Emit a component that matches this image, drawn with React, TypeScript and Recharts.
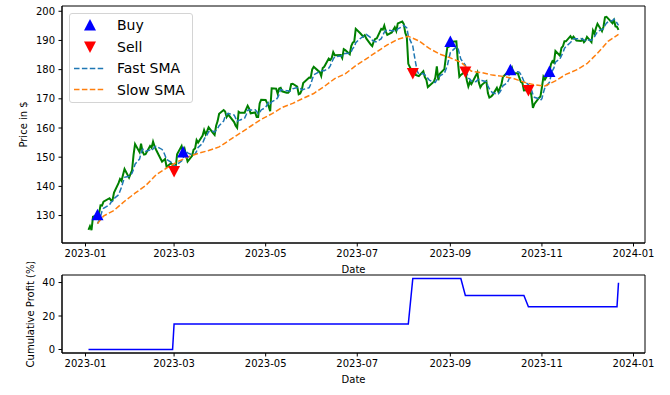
import React from "react";
import { ComposedChart, LineChart, Line, Scatter, XAxis, YAxis, Label, ReferenceArea } from "recharts";

// trading days of 2023, one row per month
const tradingDays: number[][] = [
  [3, 4, 5, 6, 9, 10, 11, 12, 13, 17, 18, 19, 20, 23, 24, 25, 26, 27, 30, 31],
  [1, 2, 3, 6, 7, 8, 9, 10, 13, 14, 15, 16, 17, 21, 22, 23, 24, 27, 28],
  [1, 2, 3, 6, 7, 8, 9, 10, 13, 14, 15, 16, 17, 20, 21, 22, 23, 24, 27, 28, 29, 30, 31],
  [3, 4, 5, 6, 10, 11, 12, 13, 14, 17, 18, 19, 20, 21, 24, 25, 26, 27, 28],
  [1, 2, 3, 4, 5, 8, 9, 10, 11, 12, 15, 16, 17, 18, 19, 22, 23, 24, 25, 26, 30, 31],
  [1, 2, 5, 6, 7, 8, 9, 12, 13, 14, 15, 16, 20, 21, 22, 23, 26, 27, 28, 29, 30],
  [3, 5, 6, 7, 10, 11, 12, 13, 14, 17, 18, 19, 20, 21, 24, 25, 26, 27, 28, 31],
  [1, 2, 3, 4, 7, 8, 9, 10, 11, 14, 15, 16, 17, 18, 21, 22, 23, 24, 25, 28, 29, 30, 31],
  [1, 5, 6, 7, 8, 11, 12, 13, 14, 15, 18, 19, 20, 21, 22, 25, 26, 27, 28, 29],
  [2, 3, 4, 5, 6, 9, 10, 11, 12, 13, 16, 17, 18, 19, 20, 23, 24, 25, 26, 27, 30, 31],
  [1, 2, 3, 6, 7, 8, 9, 10, 13, 14, 15, 16, 17, 20, 21, 22, 24, 27, 28, 29, 30],
  [1, 4, 5, 6, 7, 8, 11, 12, 13, 14, 15, 18, 19, 20, 21, 22],
];

const closeByMonth: number[][] = [
  [125.07, 126.36, 125.02, 129.62, 130.15, 130.73, 133.49, 133.41, 134.76, 135.94, 135.21, 135.27, 137.87, 141.11, 142.53, 141.86, 143.96, 145.93, 143.0, 144.29],
  [145.43, 150.82, 154.5, 151.73, 154.65, 151.92, 150.87, 151.01, 153.85, 153.2, 155.33, 153.71, 152.55, 148.48, 148.91, 149.4, 146.71, 147.92, 147.41],
  [145.31, 145.91, 151.03, 153.83, 151.6, 152.87, 150.59, 148.5, 150.47, 152.59, 152.99, 155.85, 155.0, 157.4, 159.28, 157.83, 158.93, 160.25, 158.28, 157.65, 160.77, 162.36, 164.9],
  [166.17, 165.63, 163.76, 164.66, 162.03, 160.8, 160.1, 165.56, 165.21, 165.23, 166.47, 167.63, 166.65, 165.02, 165.33, 163.77, 163.76, 168.41, 169.68],
  [169.59, 168.54, 167.45, 165.79, 173.57, 173.5, 171.77, 173.56, 173.75, 172.57, 172.07, 172.07, 172.69, 175.05, 175.16, 174.2, 171.56, 171.84, 172.99, 175.43, 177.3, 177.25],
  [180.09, 180.95, 179.58, 179.21, 177.82, 180.57, 180.96, 183.79, 183.31, 183.95, 186.01, 184.92, 185.01, 183.96, 187.0, 186.68, 185.27, 188.06, 189.25, 189.59, 193.97],
  [192.46, 191.33, 191.81, 190.68, 188.61, 188.08, 189.77, 190.54, 190.69, 193.99, 193.73, 195.1, 193.13, 191.94, 192.75, 193.62, 194.5, 193.22, 195.83, 196.45],
  [195.61, 192.58, 191.17, 181.99, 178.85, 179.8, 178.19, 177.97, 177.79, 179.46, 177.45, 176.57, 174.0, 174.49, 175.84, 177.23, 181.12, 176.38, 178.61, 180.19, 184.12, 187.65, 187.87],
  [189.46, 189.7, 182.91, 177.56, 178.18, 179.36, 176.3, 174.21, 175.74, 175.01, 177.97, 179.07, 175.49, 173.93, 174.79, 176.08, 171.96, 170.43, 170.69, 171.21],
  [173.75, 172.4, 173.66, 174.91, 177.49, 178.99, 178.39, 179.8, 180.71, 178.85, 178.72, 177.15, 175.84, 175.46, 172.88, 173.0, 173.44, 171.1, 166.89, 168.22, 170.29, 170.77],
  [173.97, 177.57, 176.65, 179.23, 181.82, 182.89, 182.41, 186.4, 184.8, 187.44, 188.01, 189.71, 189.69, 191.45, 190.64, 191.31, 189.97, 189.79, 190.4, 189.37, 189.95],
  [191.24, 189.43, 193.42, 192.32, 194.27, 195.71, 193.18, 194.71, 197.96, 198.11, 197.57, 195.89, 196.94, 194.83, 194.68, 193.6],
];

// fast SMA, same days as the closes
const fastByMonth: (number | null)[][] = [
  [null, null, null, null, 127.24, 128.38, 129.8, 131.48, 132.51, 133.67, 134.56, 134.92, 135.81, 137.08, 138.4, 139.73, 141.47, 143.08, 143.46, 143.81],
  [144.52, 145.89, 147.61, 149.35, 151.43, 152.72, 152.73, 152.04, 152.46, 152.17, 152.85, 153.42, 153.73, 152.65, 151.8, 150.61, 149.21, 148.28, 148.07],
  [147.35, 146.65, 147.52, 148.7, 149.54, 151.05, 151.98, 151.48, 150.81, 151.0, 151.03, 152.08, 153.38, 154.77, 156.1, 157.07, 157.69, 158.74, 158.91, 158.59, 159.18, 159.86, 160.79],
  [162.37, 163.97, 164.56, 165.02, 164.45, 163.38, 162.27, 162.63, 162.74, 163.38, 164.51, 166.02, 166.24, 166.2, 166.22, 165.68, 164.91, 165.26, 166.19],
  [167.04, 168.0, 168.73, 168.21, 168.99, 169.77, 170.42, 171.64, 173.23, 173.03, 172.74, 172.8, 172.63, 172.89, 173.41, 173.83, 173.73, 173.56, 173.15, 173.2, 173.82, 174.96],
  [176.61, 178.2, 179.03, 179.42, 179.53, 179.63, 179.63, 180.47, 181.29, 182.52, 183.6, 184.4, 184.64, 184.77, 185.38, 185.51, 185.58, 186.19, 187.25, 187.77, 189.23],
  [190.67, 191.32, 191.83, 192.05, 190.98, 190.1, 189.79, 189.54, 189.54, 190.61, 191.74, 192.81, 193.33, 193.58, 193.33, 193.31, 193.19, 193.21, 193.98, 194.72],
  [195.12, 194.74, 194.33, 191.56, 188.04, 184.88, 182.0, 179.36, 178.52, 178.64, 178.17, 177.85, 177.05, 176.39, 175.67, 175.63, 176.54, 177.01, 177.84, 178.71, 180.08, 181.39, 183.69],
  [185.86, 187.76, 187.52, 185.5, 183.56, 181.54, 178.86, 177.12, 176.76, 176.12, 175.85, 176.4, 176.66, 176.29, 176.25, 175.87, 174.45, 173.44, 172.79, 172.07],
  [171.61, 171.7, 172.34, 173.19, 174.44, 175.49, 176.69, 177.92, 179.08, 179.35, 179.29, 179.05, 178.25, 177.2, 176.01, 174.87, 174.12, 173.18, 171.46, 170.53, 169.99, 169.45],
  [170.03, 172.16, 173.85, 175.64, 177.85, 179.63, 180.6, 182.55, 183.66, 184.79, 185.81, 187.27, 187.93, 189.26, 189.9, 190.56, 190.61, 190.63, 190.42, 190.17, 189.9],
  [190.15, 190.08, 190.68, 191.27, 192.14, 193.03, 193.78, 194.04, 195.17, 195.93, 196.31, 196.85, 197.29, 196.67, 195.98, 195.19],
];

// slow SMA, read weekly
const slowDates = [
  "2023-01-09", "2023-01-13", "2023-01-20", "2023-01-27", "2023-02-03", "2023-02-10", "2023-02-17", "2023-02-24",
  "2023-03-03", "2023-03-10", "2023-03-17", "2023-03-24", "2023-03-31", "2023-04-06", "2023-04-14", "2023-04-21",
  "2023-04-28", "2023-05-05", "2023-05-12", "2023-05-19", "2023-05-26", "2023-06-02", "2023-06-09", "2023-06-16",
  "2023-06-23", "2023-06-30", "2023-07-07", "2023-07-14", "2023-07-21", "2023-07-28", "2023-08-04", "2023-08-11",
  "2023-08-18", "2023-08-25", "2023-09-01", "2023-09-08", "2023-09-15", "2023-09-22", "2023-09-29", "2023-10-06",
  "2023-10-13", "2023-10-20", "2023-10-27", "2023-11-03", "2023-11-10", "2023-11-17", "2023-11-24", "2023-12-01",
  "2023-12-08", "2023-12-15", "2023-12-22",
];
const slowValues = [
  127.24, 129.85, 131.76, 134.9, 137.67, 140.23, 143.96, 146.27,
  148.37, 150.04, 151.29, 152.29, 153.52, 155.55, 158.23, 160.6,
  162.95, 164.83, 167.03, 168.43, 170.17, 171.82, 174.22, 176.92,
  178.59, 181.36, 183.7, 186.13, 188.47, 190.38, 191.41, 189.87,
  187.26, 185.31, 184.03, 182.5, 179.47, 178.95, 178.12, 177.69,
  176.97, 175.71, 174.78, 174.38, 176.12, 178.37, 179.89, 182.04,
  185.64, 189.66, 192.09,
];

const buyDates = ["2023-01-09", "2023-03-07", "2023-09-01", "2023-10-11", "2023-11-06"];
const buyPrices = [130.15, 151.6, 189.46, 179.8, 179.23];
const sellDates = ["2023-03-01", "2023-08-07", "2023-09-11", "2023-10-23"];
const sellPrices = [145.31, 178.85, 179.36, 173.0];

const profitDates = [
  "2023-01-03", "2023-02-28", "2023-03-01", "2023-08-04", "2023-08-07", "2023-09-08",
  "2023-09-11", "2023-10-20", "2023-10-23", "2023-12-21", "2023-12-22",
];
const profitValues = [0, 0, 15.2, 15.2, 42.4, 42.4, 32.3, 32.3, 25.5, 25.5, 39.9];

const monthTicks = ["2023-01", "2023-03", "2023-05", "2023-07", "2023-09", "2023-11", "2024-01"];
const priceTicks = [130, 140, 150, 160, 170, 180, 190, 200];
const profitTicks = [0, 20, 40];

const PRICE_DOMAIN = [120.6, 201.8];
const PROFIT_DOMAIN = [-2.1, 44.5];

const toDay = (iso: string) => (Date.parse(iso) - Date.parse("2023-01-01")) / 864e5;

const priceData: { t: number; p: number; f: number | null }[] = [];
tradingDays.forEach((days, m) => {
  days.forEach((d, i) => {
    priceData.push({ t: (Date.UTC(2023, m, d) - Date.UTC(2023, 0, 1)) / 864e5, p: closeByMonth[m][i], f: fastByMonth[m][i] });
  });
});
const fastData = priceData.filter((r) => r.f !== null);
const slowData = slowDates.map((d, i) => ({ t: toDay(d), s: slowValues[i] }));
const buyData = buyDates.map((d, i) => ({ t: toDay(d), p: buyPrices[i] }));
const sellData = sellDates.map((d, i) => ({ t: toDay(d), p: sellPrices[i] }));
const profitData = profitDates.map((d, i) => ({ t: toDay(d), v: profitValues[i] }));

const tMin = priceData[0].t;
const tMax = priceData[priceData.length - 1].t;
const pad = (tMax - tMin) * 0.05;
const xDomain = [tMin - pad, tMax + pad];
const xTicks = monthTicks.map((m) => toDay(m + "-01"));
const tickLabel = (v: number) => monthTicks[xTicks.indexOf(v)] ?? "";

const FONT = "DejaVu Sans, sans-serif";
const tickStyle = { fill: "#000", fontSize: 10, fontFamily: FONT };

const TriUp = (props: any) => {
  const { cx, cy, color } = props;
  return <path d={`M${cx},${cy - 6.5}L${cx + 6},${cy + 5}L${cx - 6},${cy + 5}Z`} fill={color} />;
};
const TriDown = (props: any) => {
  const { cx, cy, color } = props;
  return <path d={`M${cx},${cy + 6.5}L${cx + 6},${cy - 5}L${cx - 6},${cy - 5}Z`} fill={color} />;
};

const sideTitle = (text: string, x: number) => (props: any) => {
  const vb = props.viewBox || { y: 0, height: 0 };
  const cy = vb.y + vb.height / 2;
  return (
    <text x={x} y={cy} transform={`rotate(-90 ${x} ${cy})`} textAnchor="middle" dominantBaseline="central" fontSize={10} fontFamily={FONT} fill="#000">
      {text}
    </text>
  );
};

const legendItems = [
  { name: "Buy", kind: "up", color: "#0000ff" },
  { name: "Sell", kind: "down", color: "#ff0000" },
  { name: "Fast SMA", kind: "dash", color: "#1f77b4" },
  { name: "Slow SMA", kind: "dash", color: "#ff7f0e" },
];

const LegendBox = () => (
  <div
    style={{
      position: "absolute",
      left: 69,
      top: 13,
      width: 124,
      height: 90,
      boxSizing: "border-box",
      border: "1px solid #d4d4d4",
      borderRadius: 3,
      background: "rgba(255,255,255,0.8)",
      fontFamily: FONT,
    }}
  >
    {legendItems.map((it, i) => (
      <div key={it.name} style={{ position: "absolute", left: 0, top: 0.5 + i * 21.5, height: 21, display: "flex", alignItems: "center" }}>
        <svg width={36} height={21}>
          {it.kind === "up" && <TriUp cx={20} cy={10.5} color={it.color} />}
          {it.kind === "down" && <TriDown cx={20} cy={10.5} color={it.color} />}
          {it.kind === "dash" && <line x1={4} x2={34} y1={10.5} y2={10.5} stroke={it.color} strokeWidth={1.5} strokeDasharray="5.5 2.4" />}
        </svg>
        <span style={{ fontSize: 14, marginLeft: 11, color: "#000", whiteSpace: "nowrap" }}>{it.name}</span>
      </div>
    ))}
  </div>
);

const App: React.FC = () => {
  return (
    <div style={{ position: "absolute", left: 0, top: 0, width: 670, height: 395, background: "#fff", fontFamily: FONT }}>
      <div style={{ position: "absolute", left: 0, top: 0 }}>
        <ComposedChart width={670} height={285} margin={{ top: 6, right: 25, bottom: 0, left: 0 }}>
          <XAxis
            dataKey="t"
            type="number"
            domain={xDomain}
            ticks={xTicks}
            interval={0}
            tickFormatter={tickLabel}
            allowDataOverflow
            height={42}
            tickSize={3.5}
            tickMargin={3.5}
            stroke="#000"
            tick={tickStyle}
          >
            <Label value="Date" position="insideBottom" offset={12} fontSize={10} fontFamily={FONT} fill="#000" />
          </XAxis>
          <YAxis
            type="number"
            domain={PRICE_DOMAIN}
            ticks={priceTicks}
            interval={0}
            allowDataOverflow
            width={62}
            tickSize={3.5}
            tickMargin={3.5}
            stroke="#000"
            tick={tickStyle}
          >
            <Label content={sideTitle("Price in $", 23)} />
          </YAxis>
          <Line data={priceData} dataKey="p" stroke="#008000" strokeWidth={2} dot={false} isAnimationActive={false} />
          <Scatter data={buyData} dataKey="p" shape={(p: any) => <TriUp {...p} color="#0000ff" />} isAnimationActive={false} />
          <Scatter data={sellData} dataKey="p" shape={(p: any) => <TriDown {...p} color="#ff0000" />} isAnimationActive={false} />
          <Line data={fastData} dataKey="f" stroke="#1f77b4" strokeWidth={1.5} strokeDasharray="5.5 2.4" dot={false} isAnimationActive={false} />
          <Line data={slowData} dataKey="s" stroke="#ff7f0e" strokeWidth={1.5} strokeDasharray="5.5 2.4" dot={false} isAnimationActive={false} />
          <ReferenceArea x1={xDomain[0]} x2={xDomain[1]} y1={PRICE_DOMAIN[0]} y2={PRICE_DOMAIN[1]} fill="none" stroke="#000" strokeWidth={1} ifOverflow="visible" />
        </ComposedChart>
      </div>
      <LegendBox />
      <div style={{ position: "absolute", left: 0, top: 262 }}>
        <LineChart width={670} height={133} margin={{ top: 13, right: 25, bottom: 0, left: 0 }}>
          <XAxis
            dataKey="t"
            type="number"
            domain={xDomain}
            ticks={xTicks}
            interval={0}
            tickFormatter={tickLabel}
            allowDataOverflow
            height={42}
            tickSize={3.5}
            tickMargin={3.5}
            stroke="#000"
            tick={tickStyle}
          >
            <Label value="Date" position="insideBottom" offset={12} fontSize={10} fontFamily={FONT} fill="#000" />
          </XAxis>
          <YAxis
            type="number"
            domain={PROFIT_DOMAIN}
            ticks={profitTicks}
            interval={0}
            allowDataOverflow
            width={62}
            tickSize={3.5}
            tickMargin={3.5}
            stroke="#000"
            tick={tickStyle}
          >
            <Label content={sideTitle("Cumulative Profit (%)", 30)} />
          </YAxis>
          <Line data={profitData} dataKey="v" stroke="#0000ff" strokeWidth={1.5} dot={false} isAnimationActive={false} />
          <ReferenceArea x1={xDomain[0]} x2={xDomain[1]} y1={PROFIT_DOMAIN[0]} y2={PROFIT_DOMAIN[1]} fill="none" stroke="#000" strokeWidth={1} ifOverflow="visible" />
        </LineChart>
      </div>
    </div>
  );
};

export default App;
